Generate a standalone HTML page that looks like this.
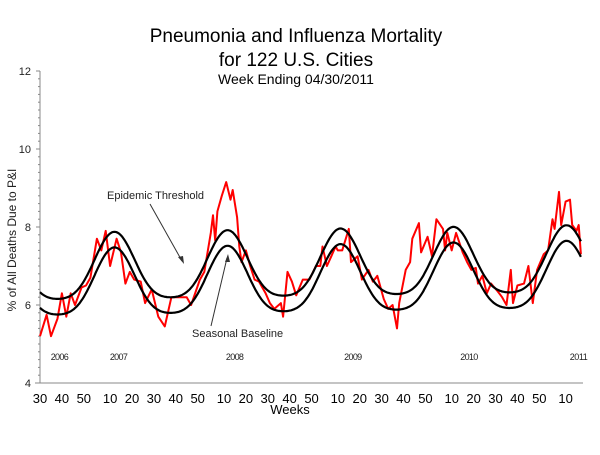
<!DOCTYPE html>
<html><head><meta charset="utf-8"><style>
body{margin:0;background:#fff;}
svg text{font-family:"Liberation Sans",Arial,sans-serif;}
</style></head><body>
<svg width="600" height="450" viewBox="0 0 600 450" xmlns="http://www.w3.org/2000/svg">
<rect width="600" height="450" fill="#fff"/>
<text x="296" y="42" font-size="19" text-anchor="middle">Pneumonia and Influenza Mortality</text>
<text x="296" y="66" font-size="19" text-anchor="middle">for 122 U.S. Cities</text>
<text x="296" y="84" font-size="14" text-anchor="middle">Week Ending  04/30/2011</text>
<text transform="translate(16,240) rotate(-90)" font-size="12" text-anchor="middle" fill="#222">% of All Deaths Due to P&amp;I</text>
<text x="290" y="414" font-size="13" text-anchor="middle">Weeks</text>
<g id="axes"></g>
<g id="series"></g>
<g>
<text x="107" y="199" font-size="11" fill="#222">Epidemic Threshold</text>
<line x1="150" y1="204" x2="182" y2="261" stroke="#333" stroke-width="1"/>
<polygon points="184,264 178,257 183,256" fill="#333"/>
<text x="192" y="337" font-size="11" fill="#222">Seasonal Baseline</text>
<line x1="211" y1="326" x2="227" y2="258" stroke="#333" stroke-width="1"/>
<polygon points="228,254 225,262 230,262" fill="#333"/>
</g>
</svg>
<script>
const weekLabels=["30","40","50","10","20","30","40","50","10","20","30","40","50","10","20","30","40","50","10","20","30","40","50","10"];
const weekTickWeeks=[0,10,20,32,42,52,62,72,84,94,104,114,124,136,146,156,166,176,188,198,208,218,228,240];
const yearLabels=["2006","2007","2008","2009","2010","2011"];
const yearLabelWeeks=[9,36,89,143,196,246];
const yTicks=[4,6,8,10,12];
const obsWeeks=[0,3,5,8,10,12,14,16,19,21,23,26,28,30,32,35,37,39,41,43,46,48,51,54,57,60,64,67,69,73,75,78,79,80,81,83,85,87,88,90,91,92,94,96,98,100,103,105,107,110,111,113,115,117,120,123,126,128,129,131,133,135,136,138,141,142,145,147,150,152,154,157,159,161,163,164,167,169,170,173,174,177,179,181,184,185,186,188,190,193,195,197,199,200,202,204,206,209,211,213,215,216,218,221,223,225,227,230,232,234,235,237,238,240,242,243,245,246,247];
const obsValues=[5.2,5.75,5.2,5.65,6.3,5.7,6.3,6.0,6.45,6.5,6.7,7.7,7.4,7.9,7.0,7.7,7.35,6.55,6.85,6.65,6.6,6.05,6.4,5.7,5.45,6.2,6.2,6.2,6.0,6.65,6.85,7.85,8.3,7.65,8.4,8.8,9.15,8.7,8.95,8.25,7.5,7.1,7.4,7.0,6.65,6.6,6.3,6.05,5.9,6.05,5.7,6.85,6.6,6.25,6.65,6.65,7.0,7.0,7.5,7.0,7.25,7.5,7.4,7.4,7.95,7.1,7.25,6.65,6.9,6.6,6.75,6.15,5.9,6.0,5.4,6.05,6.9,7.1,7.7,8.1,7.35,7.75,7.25,8.2,7.95,7.4,7.85,7.4,7.85,7.35,7.1,6.9,6.95,6.55,6.75,6.3,6.55,6.35,6.2,6.0,6.9,6.05,6.5,6.55,7.0,6.05,6.9,7.3,7.4,8.2,7.95,8.9,8.05,8.65,8.7,8.05,7.9,8.05,7.3];
const baselineMidStart=[6.45];
const baselineMidEnd=[6.65];
const baselineAmp=[0.85];
const baselineAmp2=[0.15];
const baselinePeakWeek=[34];
const baselinePeriod=[51.6];
const thresholdOffset=[0.4];

const NS="http://www.w3.org/2000/svg";
const X0=40, PXW=2.19, Y0=383, PXV=39;
const xs=w=>X0+w*PXW;
const ys=v=>Y0-(v-4)*PXV;
function mk(tag,attrs,parent){const e=document.createElementNS(NS,tag);for(const k in attrs)e.setAttribute(k,attrs[k]);parent.appendChild(e);return e;}
const axes=document.getElementById('axes'), series=document.getElementById('series');
let a=mk('line',{x1:X0,y1:ys(4),x2:X0,y2:ys(12),stroke:'#888','stroke-width':1},axes);


a=mk('line',{x1:35,y1:Y0,x2:583,y2:Y0,stroke:'#888','stroke-width':1},axes);


for(let v=4;v<=12.001;v+=0.2){
  const major=Math.abs(v-Math.round(v/2)*2)<0.01;
  const t=mk('line',{x1:X0-(major?4:2),y1:ys(v),x2:X0,y2:ys(v),stroke:'#888','stroke-width':1},axes);
  
  
}
yTicks.forEach(v=>{const t=mk('text',{x:X0-9,y:ys(v)+4,'font-size':11,'text-anchor':'end',fill:'#222'},axes);t.textContent=v;
  
  });
weekLabels.forEach((l,i)=>{const t=mk('text',{x:xs(weekTickWeeks[i]),y:403,'font-size':13,'text-anchor':'middle'},axes);t.textContent=l;
  
  });
yearLabels.forEach((l,i)=>{const t=mk('text',{x:xs(yearLabelWeeks[i]),y:360,'font-size':9,'text-anchor':'middle','textLength':18,fill:'#222'},axes);t.textContent=l;
  
  });
function base(w){const mid=baselineMidStart[0]+(baselineMidEnd[0]-baselineMidStart[0])*w/247;const th=2*Math.PI*(w-baselinePeakWeek[0])/baselinePeriod[0];return mid+baselineAmp[0]*Math.cos(th)+baselineAmp2[0]*Math.cos(2*th);}
let pb=[],pt=[];
for(let w=0;w<=247;w+=0.5){pb.push(xs(w).toFixed(1)+','+ys(base(w)).toFixed(1));pt.push(xs(w).toFixed(1)+','+ys(base(w)+thresholdOffset[0]).toFixed(1));}
let obs=obsWeeks.map((w,i)=>xs(w).toFixed(1)+','+ys(obsValues[i]).toFixed(1));
let p=mk('polyline',{points:obs.join(' '),fill:'none',stroke:'#f00','stroke-width':2,'stroke-linejoin':'round'},series);


p=mk('polyline',{points:pb.join(' '),fill:'none',stroke:'#000','stroke-width':2.2},series);


p=mk('polyline',{points:pt.join(' '),fill:'none',stroke:'#000','stroke-width':2.2},series);


</script>
</body></html>
